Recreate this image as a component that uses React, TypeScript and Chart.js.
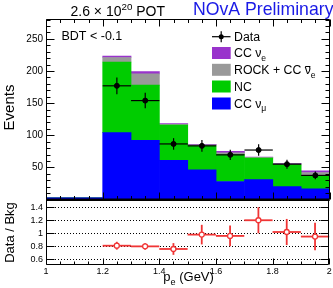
import React, { useEffect, useRef } from "react";
import { Chart, registerables } from "chart.js";

Chart.register(...registerables);

const FONT = '"Liberation Sans", Arial, Helvetica, sans-serif';

// ---- Data ----
const binCenters = [1.05, 1.15, 1.25, 1.35, 1.45, 1.55, 1.65, 1.75, 1.85, 1.95];
const ccNumu = [2.5, 2.5, 104, 92, 61, 46, 28, 31, 20, 16.5];
const ncEvents = [0, 0, 110, 86, 55, 37.5, 42, 33.5, 34, 21];
const rockCCNuebar = [0, 0, 7, 17.5, 1, 1.5, 2.5, 1, 1.5, 4.6];
const ccNue = [0, 0, 2.4, 3.5, 1.3, 0.7, 2.3, 0.5, 0.7, 2.5];

const dataX = [1.25, 1.35, 1.45, 1.55, 1.65, 1.75, 1.85, 1.95];
const dataY = [177, 154, 86.5, 83.5, 69.5, 77, 55, 37.5];
const dataErr = [13, 12, 9, 9, 8, 9, 7, 6];
const ratioY = [0.81, 0.8, 0.76, 0.98, 0.96, 1.2, 1.02, 0.95];
const ratioErr = [0.06, 0.05, 0.09, 0.15, 0.16, 0.2, 0.2, 0.21];
const binHalfWidth = 0.05;

const eventsTicks = [50, 100, 150, 200, 250];
const ratioTicks = [0.6, 0.8, 1, 1.2, 1.4];
const xTicks = [1, 1.2, 1.4, 1.6, 1.8, 2];

const seriesLabels = ["Data", "CC νμ", "NC", "ROCK + CC ν̄e", "CC νe"];
const seriesColors = ["#000000", "#0000ff", "#00cc00", "#999999", "#9933cc"];

type Run = { t: string; sub?: boolean; sup?: boolean; bar?: boolean };
const legendRuns: Run[][] = [
  [{ t: "Data" }],
  [{ t: "CC ν" }, { t: "e", sub: true }],
  [{ t: "ROCK + CC " }, { t: "ν", bar: true }, { t: "e", sub: true }],
  [{ t: "NC" }],
  [{ t: "CC ν" }, { t: "μ", sub: true }],
];
const legendDatasetIndex = [0, 4, 3, 2, 1];
const titleRuns: Run[] = [{ t: "2.6 × 10" }, { t: "20", sup: true }, { t: " POT" }];
const xTitleRuns: Run[] = [{ t: "p" }, { t: "e", sub: true }, { t: " (GeV)" }];

const RED = "#f03535";

function fmt(v: number) {
  return String(Math.round(v * 100) / 100);
}

function drawRuns(ctx: CanvasRenderingContext2D, x: number, y: number, runs: Run[], size: number) {
  let cx = x;
  ctx.textBaseline = "alphabetic";
  ctx.textAlign = "left";
  for (const r of runs) {
    const s = r.sub || r.sup ? size * 0.7 : size;
    ctx.font = `${s}px ${FONT}`;
    const dy = r.sub ? size * 0.28 : r.sup ? -size * 0.45 : 0;
    ctx.fillText(r.t, cx, y + dy);
    const w = ctx.measureText(r.t).width;
    if (r.bar) {
      ctx.save();
      ctx.strokeStyle = ctx.fillStyle as string;
      ctx.lineWidth = 1;
      ctx.beginPath();
      const by = Math.round(y - size * 0.66) + 0.5;
      ctx.moveTo(cx + 0.5, by);
      ctx.lineTo(cx + w - 0.5, by);
      ctx.stroke();
      ctx.restore();
    }
    cx += w;
  }
}

function hline(ctx: CanvasRenderingContext2D, x1: number, x2: number, y: number) {
  ctx.beginPath();
  ctx.moveTo(x1, y);
  ctx.lineTo(x2, y);
  ctx.stroke();
}
function vline(ctx: CanvasRenderingContext2D, x: number, y1: number, y2: number) {
  ctx.beginPath();
  ctx.moveTo(x, y1);
  ctx.lineTo(x, y2);
  ctx.stroke();
}

const fixAxis = (w?: number, h?: number) => (s: any) => {
  if (w !== undefined) s.width = w;
  if (h !== undefined) s.height = h;
  s.paddingTop = 0;
  s.paddingBottom = 0;
  s.paddingLeft = 0;
  s.paddingRight = 0;
};

const topPlugin = {
  id: "topDecor",
  beforeDatasetDraw(chart: any, args: any) {
    if (args.index !== 0) return;
    const ctx = chart.ctx;
    const xs = chart.scales.x;
    const ys = chart.scales.y;
    ctx.save();
    ctx.strokeStyle = "#000";
    ctx.lineWidth = 1.2;
    dataX.forEach((x, i) => {
      const px = xs.getPixelForValue(x);
      const py = ys.getPixelForValue(dataY[i]);
      hline(ctx, xs.getPixelForValue(x - binHalfWidth), xs.getPixelForValue(x + binHalfWidth), py);
      vline(ctx, px, ys.getPixelForValue(dataY[i] - dataErr[i]), ys.getPixelForValue(dataY[i] + dataErr[i]));
    });
    ctx.restore();
  },
  afterDraw(chart: any) {
    const ctx: CanvasRenderingContext2D = chart.ctx;
    const { left, right, top, bottom } = chart.chartArea;
    const xs = chart.scales.x;
    const ys = chart.scales.y;
    ctx.save();
    ctx.strokeStyle = "#000";
    ctx.fillStyle = "#000";
    ctx.lineWidth = 1;
    const L = Math.round(left) + 0.5;
    const R = Math.round(right) - 0.5;
    const T = Math.round(top) + 0.5;
    // frame
    hline(ctx, L, R, T);
    vline(ctx, L, T, bottom);
    vline(ctx, R, T, bottom);
    ctx.fillRect(left, bottom - 1, right - left, 2);
    // y ticks
    for (let v = 0; v <= 280; v += 10) {
      const py = Math.round(ys.getPixelForValue(v)) + 0.5;
      if (py < top) continue;
      const len = v % 50 === 0 ? 8 : 4;
      hline(ctx, L, L + len, py);
      hline(ctx, R - len, R, py);
    }
    // x ticks
    for (let k = 0; k <= 20; k++) {
      const v = 1 + k * 0.05;
      const px = Math.round(xs.getPixelForValue(v)) + 0.5;
      const len = k % 4 === 0 ? 7 : 3.5;
      vline(ctx, px, bottom, bottom - len);
      vline(ctx, px, T, T + len);
    }
    // title
    ctx.fillStyle = "#000";
    drawRuns(ctx, 70.5, 16, titleRuns, 14);
    ctx.fillStyle = "#1a1ae6";
    ctx.font = `17.7px ${FONT}`;
    ctx.textAlign = "right";
    ctx.textBaseline = "alphabetic";
    ctx.fillText("NOvA Preliminary", 333.5, 14.5);
    ctx.fillStyle = "#000";
    ctx.textAlign = "left";
    ctx.font = `12.5px ${FONT}`;
    ctx.fillText("BDT < -0.1", 61.5, 40);
    // y title
    ctx.save();
    ctx.translate(14, 107.5);
    ctx.rotate(-Math.PI / 2);
    ctx.textAlign = "center";
    ctx.font = `15px ${FONT}`;
    ctx.fillText("Events", 0, 0);
    ctx.restore();
    // legend
    const rowY = [36.7, 53, 69.8, 86.5, 103.5];
    legendRuns.forEach((runs, i) => {
      const cy = rowY[i];
      const ds = chart.data.datasets[legendDatasetIndex[i]];
      if (i === 0) {
        ctx.strokeStyle = ds.borderColor;
        ctx.lineWidth = 1.2;
        hline(ctx, 212, 230.5, cy);
        vline(ctx, 221.2, cy - 5.5, cy + 5.5);
        ctx.fillStyle = ds.backgroundColor;
        ctx.beginPath();
        ctx.arc(221.2, cy, 2.5, 0, Math.PI * 2);
        ctx.fill();
      } else {
        ctx.fillStyle = ds.backgroundColor;
        ctx.fillRect(212, cy - 6, 18.7, 12);
      }
      ctx.fillStyle = "#000";
      drawRuns(ctx, 234, cy + 4.3, runs, 12.3);
    });
    ctx.restore();
  },
};

const ratioPlugin = {
  id: "ratioDecor",
  beforeDatasetsDraw(chart: any) {
    const ctx: CanvasRenderingContext2D = chart.ctx;
    const { left, right } = chart.chartArea;
    const ys = chart.scales.y;
    ctx.save();
    ctx.strokeStyle = "#000";
    ctx.lineWidth = 1;
    ctx.setLineDash([1, 2]);
    ratioTicks.forEach((v) => {
      const py = Math.round(ys.getPixelForValue(v)) + 0.5;
      hline(ctx, left, right, py);
    });
    ctx.restore();
  },
  beforeDatasetDraw(chart: any, args: any) {
    if (args.index !== 0) return;
    const ctx = chart.ctx;
    const xs = chart.scales.x;
    const ys = chart.scales.y;
    ctx.save();
    ctx.strokeStyle = RED;
    ctx.lineWidth = 1.8;
    dataX.forEach((x, i) => {
      const px = xs.getPixelForValue(x);
      const py = ys.getPixelForValue(ratioY[i]);
      hline(ctx, xs.getPixelForValue(x - binHalfWidth), xs.getPixelForValue(x + binHalfWidth), py);
      vline(ctx, px, ys.getPixelForValue(ratioY[i] - ratioErr[i]), ys.getPixelForValue(ratioY[i] + ratioErr[i]));
    });
    ctx.restore();
  },
  afterDraw(chart: any) {
    const ctx: CanvasRenderingContext2D = chart.ctx;
    const { left, right, top, bottom } = chart.chartArea;
    const xs = chart.scales.x;
    const ys = chart.scales.y;
    ctx.save();
    ctx.strokeStyle = "#000";
    ctx.fillStyle = "#000";
    ctx.lineWidth = 1;
    const L = Math.round(left) + 0.5;
    const R = Math.round(right) - 0.5;
    const B = Math.round(bottom) + 0.5;
    ctx.fillRect(left, top - 1, right - left, 2);
    vline(ctx, L, top, B);
    vline(ctx, R, top, B);
    hline(ctx, L, R, B);
    ratioTicks.forEach((v) => {
      const py = Math.round(ys.getPixelForValue(v)) + 0.5;
      hline(ctx, L, L + 8, py);
      hline(ctx, R - 8, R, py);
    });
    for (let k = 0; k <= 20; k++) {
      const v = 1 + k * 0.05;
      const px = Math.round(xs.getPixelForValue(v)) + 0.5;
      const len = k % 4 === 0 ? 6 : 3;
      vline(ctx, px, B, B - len);
    }
    // y title
    ctx.save();
    ctx.translate(13.5, 232.5);
    ctx.rotate(-Math.PI / 2);
    ctx.textAlign = "center";
    ctx.textBaseline = "alphabetic";
    ctx.font = `13px ${FONT}`;
    ctx.fillText("Data / Bkg", 0, 0);
    ctx.restore();
    // x title
    drawRuns(ctx, 163.3, 281, xTitleRuns, 13);
    ctx.restore();
  },
};

export default function App() {
  const topRef = useRef<HTMLCanvasElement>(null);
  const botRef = useRef<HTMLCanvasElement>(null);

  useEffect(() => {
    const barDs = (vals: number[], i: number) => ({
      type: "bar" as const,
      label: seriesLabels[i],
      data: binCenters.map((x, k) => ({ x, y: vals[k] })),
      backgroundColor: seriesColors[i],
      borderColor: seriesColors[i],
      borderWidth: 0,
      barPercentage: 1,
      categoryPercentage: 1,
      stack: "mc",
    });
    const top = new Chart(topRef.current!, {
      type: "bar",
      data: {
        datasets: [
          {
            type: "scatter",
            label: seriesLabels[0],
            data: dataX.map((x, i) => ({ x, y: dataY[i] })),
            backgroundColor: seriesColors[0],
            borderColor: seriesColors[0],
            pointRadius: 2.5,
            pointHoverRadius: 2.5,
            showLine: false,
            stack: "data",
          } as any,
          barDs(ccNumu, 1),
          barDs(ncEvents, 2),
          barDs(rockCCNuebar, 3),
          barDs(ccNue, 4),
        ],
      },
      options: {
        animation: false,
        responsive: false,
        maintainAspectRatio: false,
        events: [],
        layout: { padding: { left: 0, top: 19, right: 3, bottom: 88.5 } },
        plugins: { legend: { display: false }, tooltip: { enabled: false }, title: { display: false } },
        scales: {
          x: {
            type: "linear",
            min: 1,
            max: 2,
            display: false,
            offset: false,
            stacked: true,
            afterFit: fixAxis(undefined, 0),
          },
          y: {
            type: "linear",
            min: 0,
            max: 281,
            stacked: true,
            afterFit: fixAxis(46),
            afterBuildTicks: (s: any) => {
              s.ticks = eventsTicks.map((v) => ({ value: v }));
            },
            grid: { display: false, drawTicks: false },
            border: { display: false },
            ticks: { padding: 3, color: "#000", font: { family: FONT, size: 10 }, callback: (v: any) => fmt(Number(v)) },
          },
        },
      } as any,
      plugins: [topPlugin],
    });

    const bot = new Chart(botRef.current!, {
      type: "scatter",
      data: {
        datasets: [
          {
            label: "Data / Bkg",
            data: dataX.map((x, i) => ({ x, y: ratioY[i] })),
            pointRadius: 2.5,
            pointHoverRadius: 2.5,
            pointBackgroundColor: "#ffffff",
            pointBorderColor: RED,
            pointBorderWidth: 1.3,
            showLine: false,
          },
        ],
      },
      options: {
        animation: false,
        responsive: false,
        maintainAspectRatio: false,
        events: [],
        layout: { padding: { left: 0, top: 200, right: 3, bottom: 0 } },
        plugins: { legend: { display: false }, tooltip: { enabled: false }, title: { display: false } },
        scales: {
          x: {
            type: "linear",
            min: 1,
            max: 2,
            offset: false,
            afterFit: fixAxis(undefined, 24),
            afterBuildTicks: (s: any) => {
              s.ticks = xTicks.map((v) => ({ value: v }));
            },
            grid: { display: false, drawTicks: false },
            border: { display: false },
            ticks: {
              padding: 2,
              autoSkip: false,
              maxRotation: 0,
              color: "#000",
              font: { family: FONT, size: 9 },
              callback: (v: any) => fmt(Number(v)),
            },
          },
          y: {
            type: "linear",
            min: 0.53,
            max: 1.51,
            afterFit: fixAxis(46),
            afterBuildTicks: (s: any) => {
              s.ticks = ratioTicks.map((v) => ({ value: v }));
            },
            grid: { display: false, drawTicks: false },
            border: { display: false },
            ticks: { padding: 3, color: "#000", font: { family: FONT, size: 9 }, callback: (v: any) => fmt(Number(v)) },
          },
        },
      } as any,
      plugins: [ratioPlugin],
    });

    return () => {
      top.destroy();
      bot.destroy();
    };
  }, []);

  const cs: React.CSSProperties = { position: "absolute", left: 0, top: 0, width: 333, height: 288 };
  return (
    <div style={{ position: "fixed", left: 0, top: 0, width: 333, height: 288, background: "#fff", overflow: "hidden" }}>
      <canvas ref={topRef} width={333} height={288} style={cs} />
      <canvas ref={botRef} width={333} height={288} style={cs} />
    </div>
  );
}
